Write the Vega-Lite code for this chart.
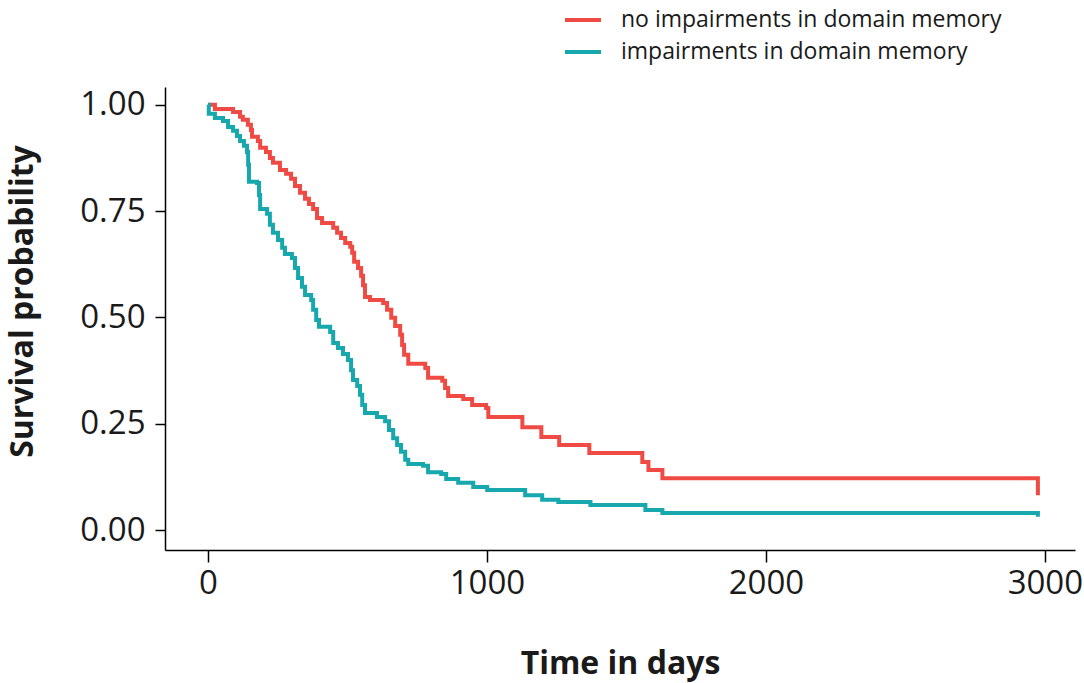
{
  "$schema": "https://vega.github.io/schema/vega-lite/v6.json",
  "width": 910,
  "height": 463,
  "autosize": "none",
  "padding": {"left": 165, "top": 87, "right": 9, "bottom": 133},
  "background": "white",
  "config": {
    "view": {"stroke": null},
    "font": "Open Sans",
    "axis": {
      "grid": false,
      "domainColor": "#000000",
      "domainWidth": 1.5,
      "tickColor": "#000000",
      "tickWidth": 1.5,
      "labelColor": "#1a1a1a",
      "labelFont": "Open Sans",
      "labelFontSize": 33,
      "titleFont": "Open Sans",
      "titleFontSize": 32,
      "titleFontWeight": "bold",
      "titleColor": "#1a1a1a"
    }
  },
  "data": {
    "values": [
      {"group": "no impairments in domain memory", "days": 0, "surv": 1.0},
      {"group": "no impairments in domain memory", "days": 25, "surv": 0.99},
      {"group": "no impairments in domain memory", "days": 90, "surv": 0.983},
      {"group": "no impairments in domain memory", "days": 115, "surv": 0.972},
      {"group": "no impairments in domain memory", "days": 125, "surv": 0.965},
      {"group": "no impairments in domain memory", "days": 143, "surv": 0.953},
      {"group": "no impairments in domain memory", "days": 154, "surv": 0.941},
      {"group": "no impairments in domain memory", "days": 158, "surv": 0.925},
      {"group": "no impairments in domain memory", "days": 179, "surv": 0.915},
      {"group": "no impairments in domain memory", "days": 187, "surv": 0.899},
      {"group": "no impairments in domain memory", "days": 208, "surv": 0.889},
      {"group": "no impairments in domain memory", "days": 222, "surv": 0.875},
      {"group": "no impairments in domain memory", "days": 233, "surv": 0.864},
      {"group": "no impairments in domain memory", "days": 258, "surv": 0.847},
      {"group": "no impairments in domain memory", "days": 280, "surv": 0.838},
      {"group": "no impairments in domain memory", "days": 298, "surv": 0.826},
      {"group": "no impairments in domain memory", "days": 312, "surv": 0.809},
      {"group": "no impairments in domain memory", "days": 330, "surv": 0.793},
      {"group": "no impairments in domain memory", "days": 348, "surv": 0.779},
      {"group": "no impairments in domain memory", "days": 362, "surv": 0.767},
      {"group": "no impairments in domain memory", "days": 377, "surv": 0.755},
      {"group": "no impairments in domain memory", "days": 391, "surv": 0.734},
      {"group": "no impairments in domain memory", "days": 409, "surv": 0.722},
      {"group": "no impairments in domain memory", "days": 449, "surv": 0.711},
      {"group": "no impairments in domain memory", "days": 463, "surv": 0.699},
      {"group": "no impairments in domain memory", "days": 477, "surv": 0.687},
      {"group": "no impairments in domain memory", "days": 492, "surv": 0.675},
      {"group": "no impairments in domain memory", "days": 510, "surv": 0.666},
      {"group": "no impairments in domain memory", "days": 517, "surv": 0.652},
      {"group": "no impairments in domain memory", "days": 524, "surv": 0.631},
      {"group": "no impairments in domain memory", "days": 538, "surv": 0.616},
      {"group": "no impairments in domain memory", "days": 549, "surv": 0.598},
      {"group": "no impairments in domain memory", "days": 556, "surv": 0.576},
      {"group": "no impairments in domain memory", "days": 563, "surv": 0.548},
      {"group": "no impairments in domain memory", "days": 581, "surv": 0.541},
      {"group": "no impairments in domain memory", "days": 628, "surv": 0.534},
      {"group": "no impairments in domain memory", "days": 642, "surv": 0.518},
      {"group": "no impairments in domain memory", "days": 657, "surv": 0.499},
      {"group": "no impairments in domain memory", "days": 671, "surv": 0.48},
      {"group": "no impairments in domain memory", "days": 689, "surv": 0.459},
      {"group": "no impairments in domain memory", "days": 696, "surv": 0.435},
      {"group": "no impairments in domain memory", "days": 703, "surv": 0.412},
      {"group": "no impairments in domain memory", "days": 718, "surv": 0.391},
      {"group": "no impairments in domain memory", "days": 779, "surv": 0.381},
      {"group": "no impairments in domain memory", "days": 789, "surv": 0.358},
      {"group": "no impairments in domain memory", "days": 840, "surv": 0.351},
      {"group": "no impairments in domain memory", "days": 850, "surv": 0.334},
      {"group": "no impairments in domain memory", "days": 861, "surv": 0.315},
      {"group": "no impairments in domain memory", "days": 915, "surv": 0.308},
      {"group": "no impairments in domain memory", "days": 947, "surv": 0.294},
      {"group": "no impairments in domain memory", "days": 997, "surv": 0.287},
      {"group": "no impairments in domain memory", "days": 1005, "surv": 0.266},
      {"group": "no impairments in domain memory", "days": 1127, "surv": 0.242},
      {"group": "no impairments in domain memory", "days": 1195, "surv": 0.219},
      {"group": "no impairments in domain memory", "days": 1259, "surv": 0.2},
      {"group": "no impairments in domain memory", "days": 1367, "surv": 0.181},
      {"group": "no impairments in domain memory", "days": 1557, "surv": 0.16},
      {"group": "no impairments in domain memory", "days": 1579, "surv": 0.141},
      {"group": "no impairments in domain memory", "days": 1629, "surv": 0.122},
      {"group": "no impairments in domain memory", "days": 2975, "surv": 0.082},
      {"group": "impairments in domain memory", "days": 0, "surv": 1.0},
      {"group": "impairments in domain memory", "days": 3, "surv": 0.979},
      {"group": "impairments in domain memory", "days": 25, "surv": 0.969},
      {"group": "impairments in domain memory", "days": 54, "surv": 0.962},
      {"group": "impairments in domain memory", "days": 72, "surv": 0.948},
      {"group": "impairments in domain memory", "days": 90, "surv": 0.939},
      {"group": "impairments in domain memory", "days": 104, "surv": 0.927},
      {"group": "impairments in domain memory", "days": 115, "surv": 0.915},
      {"group": "impairments in domain memory", "days": 129, "surv": 0.904},
      {"group": "impairments in domain memory", "days": 140, "surv": 0.889},
      {"group": "impairments in domain memory", "days": 144, "surv": 0.859},
      {"group": "impairments in domain memory", "days": 147, "surv": 0.819},
      {"group": "impairments in domain memory", "days": 176, "surv": 0.816},
      {"group": "impairments in domain memory", "days": 183, "surv": 0.788},
      {"group": "impairments in domain memory", "days": 187, "surv": 0.755},
      {"group": "impairments in domain memory", "days": 212, "surv": 0.744},
      {"group": "impairments in domain memory", "days": 222, "surv": 0.718},
      {"group": "impairments in domain memory", "days": 233, "surv": 0.699},
      {"group": "impairments in domain memory", "days": 251, "surv": 0.682},
      {"group": "impairments in domain memory", "days": 266, "surv": 0.664},
      {"group": "impairments in domain memory", "days": 276, "surv": 0.649},
      {"group": "impairments in domain memory", "days": 301, "surv": 0.64},
      {"group": "impairments in domain memory", "days": 312, "surv": 0.616},
      {"group": "impairments in domain memory", "days": 323, "surv": 0.593},
      {"group": "impairments in domain memory", "days": 337, "surv": 0.572},
      {"group": "impairments in domain memory", "days": 348, "surv": 0.553},
      {"group": "impairments in domain memory", "days": 370, "surv": 0.541},
      {"group": "impairments in domain memory", "days": 377, "surv": 0.518},
      {"group": "impairments in domain memory", "days": 388, "surv": 0.494},
      {"group": "impairments in domain memory", "days": 398, "surv": 0.478},
      {"group": "impairments in domain memory", "days": 438, "surv": 0.466},
      {"group": "impairments in domain memory", "days": 449, "surv": 0.44},
      {"group": "impairments in domain memory", "days": 466, "surv": 0.428},
      {"group": "impairments in domain memory", "days": 484, "surv": 0.414},
      {"group": "impairments in domain memory", "days": 502, "surv": 0.4},
      {"group": "impairments in domain memory", "days": 513, "surv": 0.376},
      {"group": "impairments in domain memory", "days": 520, "surv": 0.353},
      {"group": "impairments in domain memory", "days": 535, "surv": 0.339},
      {"group": "impairments in domain memory", "days": 545, "surv": 0.318},
      {"group": "impairments in domain memory", "days": 553, "surv": 0.294},
      {"group": "impairments in domain memory", "days": 563, "surv": 0.275},
      {"group": "impairments in domain memory", "days": 606, "surv": 0.266},
      {"group": "impairments in domain memory", "days": 635, "surv": 0.256},
      {"group": "impairments in domain memory", "days": 649, "surv": 0.235},
      {"group": "impairments in domain memory", "days": 664, "surv": 0.216},
      {"group": "impairments in domain memory", "days": 678, "surv": 0.2},
      {"group": "impairments in domain memory", "days": 692, "surv": 0.184},
      {"group": "impairments in domain memory", "days": 707, "surv": 0.165},
      {"group": "impairments in domain memory", "days": 718, "surv": 0.155},
      {"group": "impairments in domain memory", "days": 771, "surv": 0.151},
      {"group": "impairments in domain memory", "days": 789, "surv": 0.136},
      {"group": "impairments in domain memory", "days": 836, "surv": 0.132},
      {"group": "impairments in domain memory", "days": 854, "surv": 0.12},
      {"group": "impairments in domain memory", "days": 897, "surv": 0.111},
      {"group": "impairments in domain memory", "days": 951, "surv": 0.101},
      {"group": "impairments in domain memory", "days": 1001, "surv": 0.094},
      {"group": "impairments in domain memory", "days": 1137, "surv": 0.082},
      {"group": "impairments in domain memory", "days": 1198, "surv": 0.071},
      {"group": "impairments in domain memory", "days": 1256, "surv": 0.066},
      {"group": "impairments in domain memory", "days": 1371, "surv": 0.059},
      {"group": "impairments in domain memory", "days": 1568, "surv": 0.047},
      {"group": "impairments in domain memory", "days": 1629, "surv": 0.04},
      {"group": "impairments in domain memory", "days": 2975, "surv": 0.031}
    ]
  },
  "mark": {"type": "line", "interpolate": "step-after", "strokeWidth": 4, "clip": true},
  "encoding": {
    "x": {
      "field": "days",
      "type": "quantitative",
      "title": "Time in days",
      "scale": {"domain": [-154, 3108], "nice": false, "zero": false},
      "axis": {
        "values": [0, 1000, 2000, 3000],
        "format": "d",
        "tickSize": 12,
        "labelPadding": 5,
        "labelFlush": false,
        "titlePadding": 48
      }
    },
    "y": {
      "field": "surv",
      "type": "quantitative",
      "title": "Survival probability",
      "scale": {"domain": [-0.047, 1.042], "nice": false, "zero": false},
      "axis": {
        "values": [0, 0.25, 0.5, 0.75, 1],
        "format": ".2f",
        "tickSize": 10,
        "labelPadding": 10,
        "labelFlush": false,
        "titlePadding": 40,
        "titleY": 214
      }
    },
    "color": {
      "field": "group",
      "type": "nominal",
      "title": null,
      "scale": {
        "domain": ["no impairments in domain memory", "impairments in domain memory"],
        "range": ["#ef4b44", "#17a8ad"]
      },
      "legend": {
        "orient": "none",
        "legendX": 398,
        "legendY": -87,
        "symbolType": "stroke",
        "symbolSize": 1296,
        "symbolStrokeWidth": 4,
        "labelFont": "Open Sans",
        "labelFontSize": 23,
        "labelColor": "#1a1a1a",
        "labelOffset": 18,
        "rowPadding": 0,
        "labelLimit": 600
      }
    }
  }
}
